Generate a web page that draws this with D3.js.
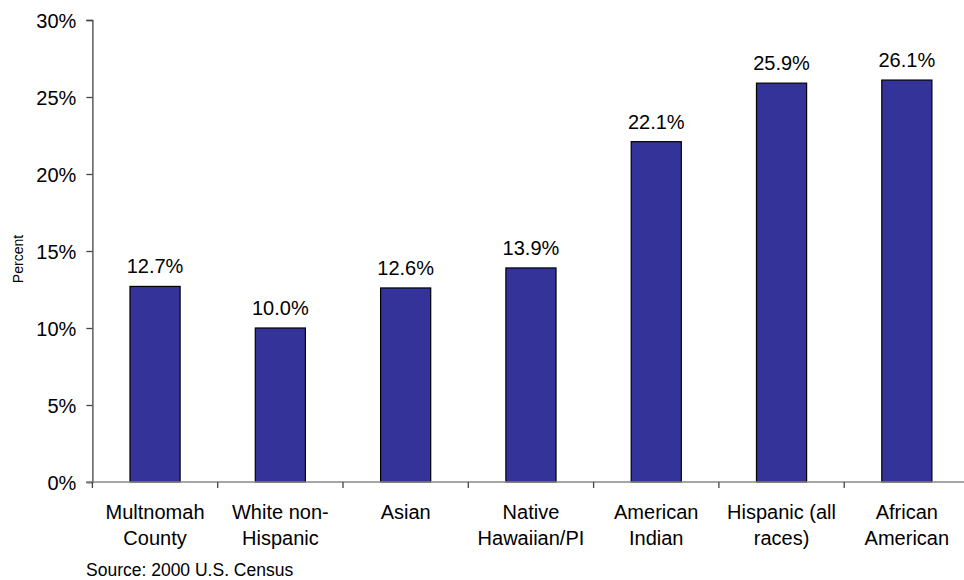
<!DOCTYPE html>
<html>
<head>
<meta charset="utf-8">
<script src="https://cdn.jsdelivr.net/npm/d3@7/dist/d3.min.js"></script>
<style>
  html, body { margin: 0; padding: 0; background: #fff; }
  svg { display: block; font-family: "Liberation Sans", Arial, sans-serif; }
</style>
</head>
<body>
<svg id="chart" width="964" height="580"></svg>
<script>
// Share of population, by group (percent)
const categories = [
  "Multnomah\nCounty",
  "White non-\nHispanic",
  "Asian",
  "Native\nHawaiian/PI",
  "American\nIndian",
  "Hispanic (all\nraces)",
  "African\nAmerican"
];
const values = [12.7, 10.0, 12.6, 13.9, 22.1, 25.9, 26.1];
const yTicks = [0, 5, 10, 15, 20, 25, 30];
const yLabel = "Percent";
const sourceNote = "Source: 2000 U.S. Census";

const svg = d3.select("#chart");
const plotLeft = 92.4, plotTop = 20, plotBottom = 482;
const slot = 125.3;

const x = d3.scaleBand()
  .domain(categories)
  .range([plotLeft, plotLeft + slot * categories.length])
  .paddingInner(0.6)
  .paddingOuter(0.3);

const y = d3.scaleLinear().domain([0, 30]).range([plotBottom, plotTop]);

// Bars
svg.append("g").selectAll("rect")
  .data(values)
  .join("rect")
  .attr("x", (d, i) => x(categories[i]))
  .attr("y", d => y(d))
  .attr("width", x.bandwidth())
  .attr("height", d => y(0) - y(d))
  .attr("fill", "#333399")
  .attr("stroke", "#000")
  .attr("stroke-width", 1.2);

// Value labels
svg.append("g").selectAll("text")
  .data(values)
  .join("text")
  .attr("x", (d, i) => x(categories[i]) + x.bandwidth() / 2)
  .attr("y", d => y(d) - 13)
  .attr("text-anchor", "middle")
  .attr("font-size", 20)
  .attr("fill", "#000")
  .text(d => d.toFixed(1) + "%");

// Y axis
const yAxis = d3.axisLeft(y)
  .tickValues(yTicks)
  .tickSize(6)
  .tickPadding(10)
  .tickFormat(d => d + "%");
const gy = svg.append("g").attr("transform", `translate(${plotLeft},0)`).call(yAxis);
gy.select(".domain").attr("stroke", "#444").attr("stroke-width", 1.3);
gy.selectAll(".tick line").attr("stroke", "#444").attr("stroke-width", 1.3);
gy.selectAll(".tick text")
  .attr("font-size", 20)
  .attr("font-family", "Liberation Sans, Arial, sans-serif")
  .attr("fill", "#000")
  .attr("dy", "0.36em");

// X axis baseline with ticks at category boundaries
const bounds = d3.range(categories.length + 1).map(i => plotLeft + i * x.step());
const gx = svg.append("g");
gx.append("line")
  .attr("x1", plotLeft - 6).attr("x2", 964)
  .attr("y1", y(0)).attr("y2", y(0))
  .attr("stroke", "#888").attr("stroke-width", 1.5);
gx.selectAll("line.tick")
  .data(bounds)
  .join("line")
  .attr("class", "tick")
  .attr("x1", d => d).attr("x2", d => d)
  .attr("y1", y(0)).attr("y2", y(0) + 6)
  .attr("stroke", "#444").attr("stroke-width", 1.3);

// Category labels (two lines)
const labels = gx.selectAll("text.cat")
  .data(categories)
  .join("text")
  .attr("class", "cat")
  .attr("text-anchor", "middle")
  .attr("font-size", 20)
  .attr("fill", "#000")
  .attr("transform", d => `translate(${x(d) + x.bandwidth() / 2},${y(0) + 37})`);
labels.selectAll("tspan")
  .data(d => d.split("\n"))
  .join("tspan")
  .attr("x", 0)
  .attr("dy", (d, i) => i === 0 ? 0 : 25.5)
  .text(d => d);

// Y axis title
svg.append("text")
  .attr("transform", "translate(23,259) rotate(-90)")
  .attr("text-anchor", "middle")
  .attr("font-size", 14)
  .attr("fill", "#000")
  .text(yLabel);

// Source note
svg.append("text")
  .attr("x", 86)
  .attr("y", 576)
  .attr("font-size", 17.5)
  .attr("fill", "#000")
  .text(sourceNote);
</script>
</body>
</html>
